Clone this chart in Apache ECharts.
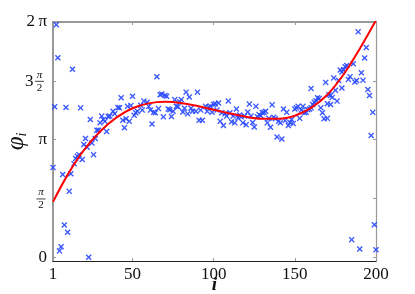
<!DOCTYPE html>
<html>
<head>
<meta charset="utf-8">
<script src="https://cdn.jsdelivr.net/npm/echarts@6/dist/echarts.min.js"></script>
<style>html,body{margin:0;padding:0;background:#fff}#c{width:415px;height:294px}</style>
</head>
<body>
<div id="c"></div>
<script>
// scatter data: index i and phase phi_i
const pointI = [1,2,3,4,5,6,7,8,9,10,11,12,13,14,15,16,17,18,19,20,21,22,23,24,25,26,27,28,29,30,31,32,33,34,35,36,
  38,39,41,42,43,44,45,46,47,48,49,50,51,52,53,55,56,57,59,60,61,62,63,64,65,66,67,68,
  69,70,71,72,73,74,75,76,77,78,79,80,81,82,83,84,85,86,87,89,90,91,92,93,95,96,97,98,99,100,101,102,103,104,
  105,106,107,108,109,110,111,112,113,114,115,116,117,118,119,120,121,122,123,124,125,126,127,128,129,130,131,132,133,134,135,136,137,
  138,139,140,141,142,143,144,145,146,147,148,149,150,151,152,153,154,155,156,157,158,159,160,160,161,162,163,164,165,166,167,168,169,
  170,170,171,172,172,173,174,175,176,177,178,179,179,180,181,182,183,184,185,186,187,188,189,190,191,192,193,194,195,196,197,198,199,200];
const pointPhi = [2.40,4.02,6.21,5.33,0.17,0.28,2.21,0.86,4.00,0.67,1.76,2.23,5.02,2.50,2.64,2.70,2.74,3.99,2.61,3.01,3.17,2.94,0.00,3.68,3.05,2.74,3.17,3.39,3.39,3.59,3.77,3.68,3.63,3.36,3.76,3.77,
  3.90,3.83,4.00,3.99,4.26,3.66,3.46,3.70,4.03,3.63,4.05,4.30,3.79,3.86,3.90,4.06,3.93,4.17,4.14,4.03,3.93,3.56,3.87,3.86,4.82,3.97,4.34,4.36,
  3.75,4.32,4.30,3.96,3.94,3.76,3.90,4.21,4.03,4.02,4.15,4.21,3.88,3.98,4.41,3.83,4.28,3.98,3.90,3.90,4.41,3.66,3.93,3.66,4.03,3.90,4.01,4.03,3.87,4.08,4.10,3.93,4.12,3.63,
  3.86,3.52,3.83,3.77,4.17,3.86,3.62,3.77,3.59,3.96,3.72,3.80,3.75,3.59,3.77,3.54,3.88,4.09,3.77,3.60,3.48,4.03,3.75,3.81,3.78,3.86,3.87,3.90,3.59,3.71,3.47,4.07,3.74,
  3.70,3.21,3.63,3.59,3.16,3.96,3.65,3.87,3.52,3.60,3.68,3.57,3.96,3.99,4.03,3.71,3.93,4.03,3.86,3.87,3.94,3.96,4.51,3.99,4.08,4.14,4.18,4.26,4.24,3.99,3.86,3.70,4.67,
  3.71,4.10,4.34,4.08,4.32,4.27,4.79,4.46,4.17,4.72,5.00,4.95,4.52,5.01,5.09,5.12,4.75,4.82,0.47,5.17,4.68,4.72,6.02,0.22,4.93,4.73,5.32,5.60,4.48,4.32,3.25,3.87,0.87,0.20];
// red fitted curve, read at sample indices
const curveI = [1,10,20,30,40,50,60,70,80,90,100,110,120,130,140,150,160,170,180,190,200];
const curveV = [1.48,2.20,2.86,3.36,3.73,3.98,4.11,4.15,4.12,4.04,3.94,3.84,3.75,3.70,3.70,3.78,3.99,4.34,4.88,5.57,6.33];
const xTicks = [1,50,100,150,200];
const yTicks = [0, Math.PI/2, Math.PI, 3*Math.PI/2, 2*Math.PI];
const yTickText = ['0', '', 'π', '', '2\u2009π'];   // fractions drawn as text below
const fracTicks = [Math.PI/2, 3*Math.PI/2];
const fracWhole = ['', '3'];

const FONT = 'Liberation Serif';
const INK = '#111';
const chart = echarts.init(document.getElementById('c'), null, {renderer:'canvas'});
function yLabel(v){
  const k = Math.round(v/(Math.PI/2));
  return yTickText[k] || '';
}
const gray = '#999999';
chart.setOption({
  animation:false,
  backgroundColor:'#fff',
  grid:{left:53,right:39,top:22,bottom:33,containLabel:false,outerBoundsMode:'none'},
  xAxis:[{
    type:'value',min:1,max:200,position:'bottom',
    name:'i',nameLocation:'middle',nameGap:15,nameMoveOverlap:false,
    nameTextStyle:{fontFamily:FONT,fontStyle:'italic',fontWeight:'bold',fontSize:19,color:INK},
    axisLine:{onZero:false,lineStyle:{color:'#222',width:1.2}},
    axisTick:{inside:true,length:3,customValues:xTicks,lineStyle:{color:gray}},
    axisLabel:{customValues:xTicks,margin:5,fontFamily:FONT,fontSize:17,color:INK},
    splitLine:{show:false}
  },{
    type:'value',min:1,max:200,position:'top',
    axisLine:{onZero:false,lineStyle:{color:gray,width:2}},
    axisTick:{inside:true,length:3,customValues:xTicks,lineStyle:{color:gray}},
    axisLabel:{show:false},splitLine:{show:false}
  }],
  yAxis:[{
    type:'value',min:-0.1,max:2*Math.PI,position:'left',
    name:'{p|φ}{s|i}',nameLocation:'middle',nameGap:24,nameRotate:90,nameMoveOverlap:false,
    nameTextStyle:{fontFamily:FONT,color:INK,rich:{
      p:{fontFamily:FONT,fontStyle:'italic',fontSize:25,color:INK},
      s:{fontFamily:FONT,fontStyle:'italic',fontSize:14,color:INK,verticalAlign:'bottom',padding:[10,0,0,0]}
    }},
    axisLine:{onZero:false,lineStyle:{color:gray,width:2}},
    axisTick:{inside:true,length:3,customValues:yTicks,lineStyle:{color:gray}},
    axisLabel:{customValues:yTicks,margin:6,fontFamily:FONT,fontSize:17,color:INK,formatter:yLabel},
    splitLine:{show:false}
  },{
    type:'value',min:-0.1,max:2*Math.PI,position:'right',
    axisLine:{onZero:false,lineStyle:{color:gray,width:1.2}},
    axisTick:{inside:true,length:3,customValues:yTicks,lineStyle:{color:gray}},
    axisLabel:{show:false},splitLine:{show:false}
  }],
  series:[{
    type:'scatter',xAxisIndex:0,yAxisIndex:0,
    data:pointI.map((v,k)=>[v,pointPhi[k]]),
    symbol:'path://M0,1.6L1.6,0L5,3.4L8.4,0L10,1.6L6.6,5L10,8.4L8.4,10L5,6.6L1.6,10L0,8.4L3.4,5Z',
    symbolSize:6,
    itemStyle:{color:'#2546ff',opacity:0.9},
    z:2
  },{
    type:'line',xAxisIndex:0,yAxisIndex:0,
    data:curveI.map((v,k)=>[v,curveV[k]]),
    smooth:0.35,showSymbol:false,symbol:'none',clip:true,
    lineStyle:{color:'#ff0000',width:2},
    z:3
  }]
});
// fraction tick labels (π/2 and 3π/2) as real text, placed at the axis ticks
const g = [];
fracTicks.forEach((v,k)=>{
  const py = chart.convertToPixel({yAxisIndex:0}, v);
  const cx = k === 0 ? 41 : 39.5;
  g.push({type:'text',x:cx,y:py-0.5,style:{text:'π',font:'italic 11px "'+FONT+'"',fill:INK,align:'center',verticalAlign:'bottom'}});
  g.push({type:'line',shape:{x1:cx-4.5,y1:py+0.5,x2:cx+4.5,y2:py+0.5},style:{stroke:INK,lineWidth:0.8}});
  g.push({type:'text',x:cx,y:py+1.5,style:{text:'2',font:'11px "'+FONT+'"',fill:INK,align:'center',verticalAlign:'top'}});
  if (fracWhole[k]) {
    g.push({type:'text',x:cx-6,y:py+0.5,style:{text:fracWhole[k],font:'17px "'+FONT+'"',fill:INK,align:'right',verticalAlign:'middle'}});
  }
});
chart.setOption({graphic:{elements:g}});
</script>
</body>
</html>
